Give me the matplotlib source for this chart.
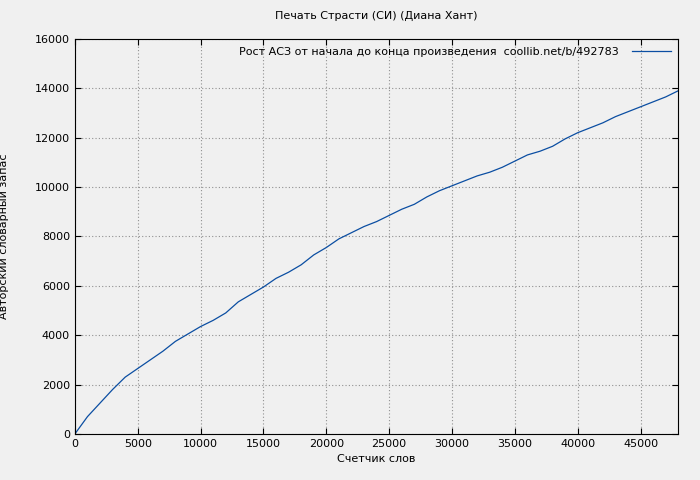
import matplotlib
matplotlib.use("Agg")
import matplotlib.pyplot as plt

words = [0, 1000, 2000, 3000, 4000, 5000, 6000, 7000, 8000, 9000, 10000, 11000,
         12000, 13000, 14000, 15000, 16000, 17000, 18000, 19000, 20000, 21000,
         22000, 23000, 24000, 25000, 26000, 27000, 28000, 29000, 30000, 31000,
         32000, 33000, 34000, 35000, 36000, 37000, 38000, 39000, 40000, 41000,
         42000, 43000, 44000, 45000, 46000, 47000, 48000]
vocab = [0, 700, 1250, 1800, 2300, 2650, 3000, 3350, 3750, 4050, 4350, 4600,
         4900, 5350, 5650, 5950, 6300, 6550, 6850, 7250, 7550, 7900, 8150, 8400,
         8600, 8850, 9100, 9300, 9600, 9850, 10050, 10250, 10450, 10600, 10800,
         11050, 11300, 11450, 11650, 11950, 12200, 12400, 12600, 12850, 13050,
         13250, 13450, 13650, 13900]

plt.rcParams["font.size"] = 8
fig = plt.figure(figsize=(7, 4.8), dpi=100, facecolor="#f0f0f0")
ax = fig.add_axes([0.107, 0.096, 0.862, 0.823])
ax.set_facecolor("#f0f0f0")
ax.plot(words, vocab, color="#0b4ea2", linewidth=0.9,
        label="Рост АСЗ от начала до конца произведения  coollib.net/b/492783")
ax.set_xlim(0, 48000)
ax.set_ylim(0, 16000)
ax.set_xticks(range(0, 48000, 5000))
ax.set_yticks(range(0, 16001, 2000))
ax.grid(True, color="#909090", linestyle=(0, (1, 2)), linewidth=0.8)
ax.tick_params(direction="in", length=4, top=True, right=True)
ax.set_title("Печать Страсти (СИ) (Диана Хант)", fontsize=8, pad=14)
ax.set_xlabel("Счетчик слов")
ax.set_ylabel("Авторский словарный запас")
ax.yaxis.set_label_coords(-0.11, 0.5)
ax.legend(loc="upper right", frameon=False, markerfirst=False,
          handlelength=3.5, borderaxespad=0.3, handletextpad=1.2)
fig.savefig("out.png", facecolor=fig.get_facecolor())
